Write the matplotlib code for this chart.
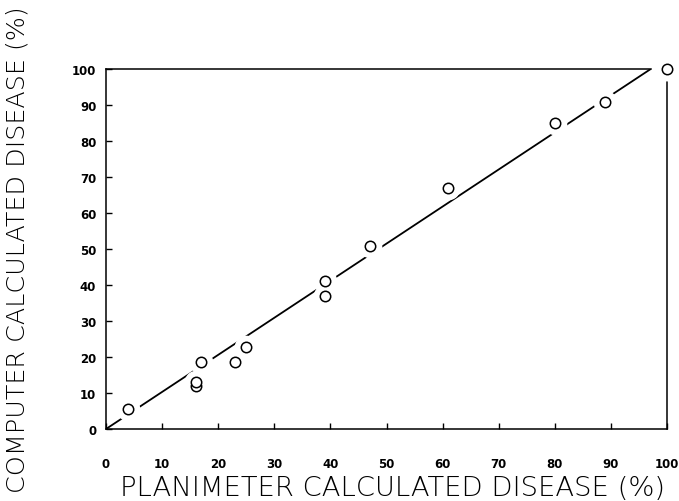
import matplotlib
matplotlib.use("Agg")
import matplotlib.pyplot as plt

# Data
planimeter = [4, 16, 16, 17, 23, 25, 39, 39, 47, 61, 80, 89, 100]
computer = [5.6, 11.9, 13.0, 18.6, 18.6, 22.8, 41, 37, 50.8, 67, 85, 90.8, 100]
fit_x = [0, 97.1]
fit_y = [0, 100]
ticks = [0, 10, 20, 30, 40, 50, 60, 70, 80, 90, 100]
xlabel = "PLANIMETER CALCULATED DISEASE (%)"
ylabel = "COMPUTER CALCULATED DISEASE (%)"

fig = plt.figure(figsize=(6.79, 5.02), dpi=100)
ax = fig.add_axes([106 / 679, 1 - 430 / 502, (667 - 106) / 679, (430 - 70) / 502])

ax.plot(fit_x, fit_y, color="black", lw=1.3, zorder=1, solid_capstyle="butt")
ax.plot(planimeter, computer, linestyle="none", marker="o", ms=16,
        mfc="white", mec="white", zorder=3, clip_on=False)
ax.plot(planimeter, computer, linestyle="none", marker="o", ms=7.5,
        mfc="white", mec="black", mew=1.1, zorder=4, clip_on=False)

ax.set_xlim(0, 100)
ax.set_ylim(0, 100)
ax.set_xticks(ticks)
ax.set_yticks(ticks)
ax.set_xticklabels([str(t) for t in ticks], fontsize=8.5, fontweight="bold")
ax.set_yticklabels([str(t) for t in ticks], fontsize=8.5, fontweight="bold")
ax.tick_params(axis="x", direction="in", length=4, width=1.0, pad=20)
ax.tick_params(axis="y", direction="in", length=4, width=1.0, pad=7)

for s in ax.spines.values():
    s.set_linewidth(1.1)
ax.spines["top"].set_bounds(0, 97.1)
ax.spines["right"].set_bounds(0, 96.4)

fig.text(393 / 679, 1 - 489 / 502, xlabel, fontsize=19.7, fontweight="light",
         ha="center", va="center")
fig.text(18 / 679, 1 - 250 / 502, ylabel, fontsize=18.3, fontweight="light",
         ha="center", va="center", rotation=90)

fig.savefig("out.png", dpi=100)
